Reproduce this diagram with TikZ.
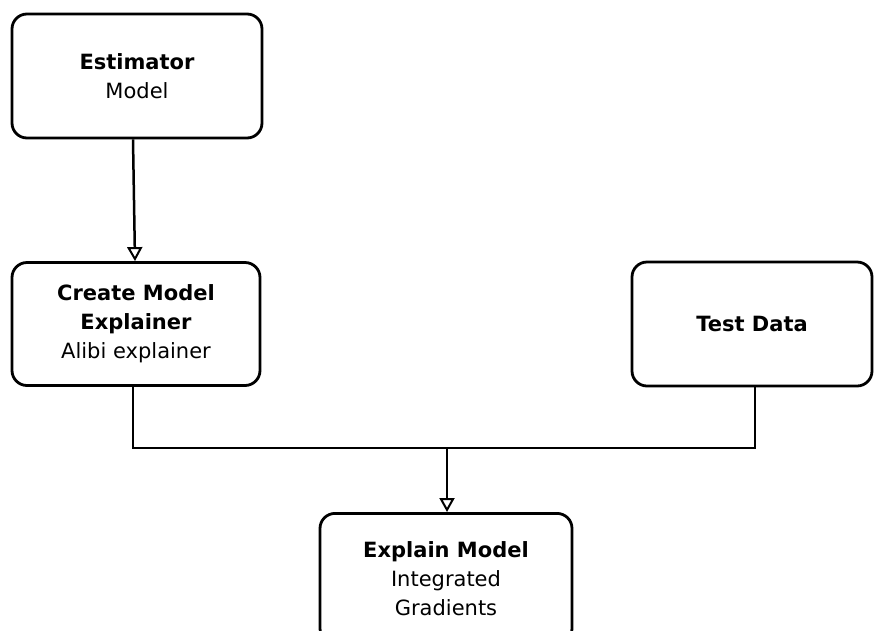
\documentclass[tikz,border=0pt]{standalone}
\usepackage{fontspec}
\setmainfont{DejaVu Sans}
\usetikzlibrary{arrows.meta,positioning}
\begin{document}
\begin{tikzpicture}[x=1pt,y=-1pt,
  sketchbox/.style={draw=black,line width=2.8pt,rounded corners=15pt,fill=white,align=center,
    font=\fontsize{21}{29}\selectfont,inner sep=0pt},
  conn/.style={draw=black,line width=2.5pt},
  arr/.style={conn,-{Triangle[open,length=14pt,width=15pt,line width=2pt]}}]
\useasboundingbox (0,0) rectangle (874,630);
\fill[white] (0,0) rectangle (874,630);
\node[sketchbox,minimum width=250pt,minimum height=124pt] (est) at (137,76)
  {\textbf{Estimator}\\Model};
\node[sketchbox,minimum width=248pt,minimum height=123pt] (cme) at (136,324)
  {\textbf{Create Model}\\\textbf{Explainer}\\Alibi explainer};
\node[sketchbox,minimum width=240pt,minimum height=124pt] (td) at (752,324)
  {\textbf{Test Data}};
\node[sketchbox,minimum width=252pt,minimum height=130pt,anchor=north] (em) at (446,512)
  {\textbf{Explain Model}\\Integrated\\Gradients};
\coordinate (jl) at (133,448);
\coordinate (jr) at (755,448);
\coordinate (jm) at (447,448);
\draw[arr] (est.south -| 133,0) -- (cme.north -| 135,0);
\draw[conn] (cme.south -| 133,0) -- (jl) -- (jr) -- (td.south -| 755,0);
\draw[arr] (jm) -- (em.north -| 447,0);
\end{tikzpicture}
\end{document}
